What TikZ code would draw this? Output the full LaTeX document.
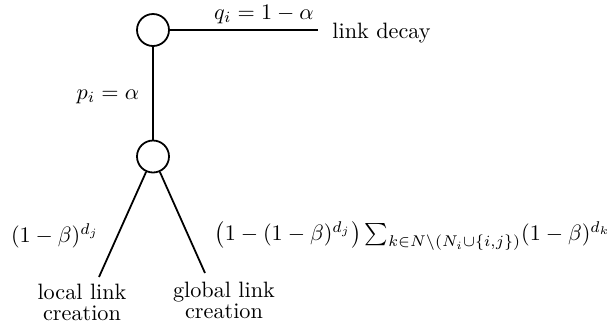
\documentclass[tikz,border=0pt]{standalone}
\usepackage{amsmath}
\begin{document}
\begin{tikzpicture}[x=0.45pt,y=-0.45pt,
  state/.style={circle,draw,thick,minimum size=14.4pt,inner sep=0pt},
  conn/.style={thick},
  lbl/.style={inner sep=0pt}]
\useasboundingbox (0,0) rectangle (613,329);
\node[state] (c1) at (153,30) {};
\node[state] (c2) at (153,156.5) {};
\node[lbl,anchor=base west] (decay) at (332,38) {link decay};
\node[lbl] (q) at (264,14) {$q_i = 1-\alpha$};
\node[lbl] (p) at (108,97) {$p_i = \alpha$};
\node[lbl,align=center,anchor=north] (local) at (82,284) {local link\\[-2.8pt]creation};
\node[lbl,align=center,anchor=north] (global) at (224,282) {global link\\[-2.8pt]creation};
\node[lbl] (lp) at (55,236) {$(1-\beta)^{d_j}$};
\node[lbl,anchor=east] (rp) at (611,236) {$\bigl(1-(1-\beta)^{d_j}\bigr)\sum_{k\in N\setminus(N_i\cup\{i,j\})}(1-\beta)^{d_k}$};
\coordinate (lend) at (99,277);
\coordinate (rend) at (205,273);
\coordinate (dend) at (318,30);
\draw[conn] (c1) -- (dend);
\draw[conn] (c1) -- (c2);
\draw[conn] (c2) -- (lend);
\draw[conn] (c2) -- (rend);
\end{tikzpicture}
\end{document}
